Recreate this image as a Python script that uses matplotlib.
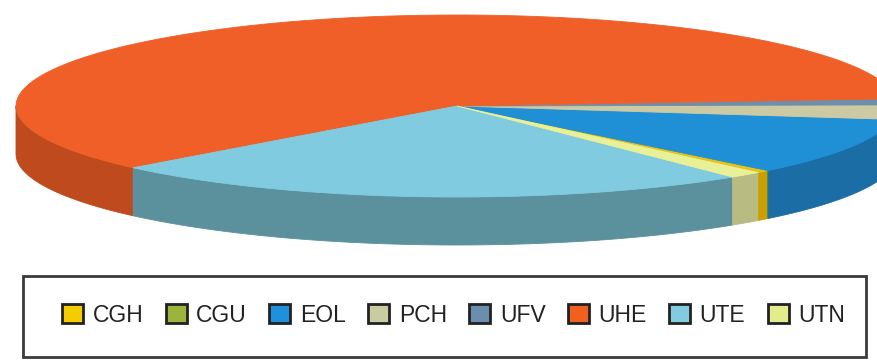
import numpy as np
import matplotlib
matplotlib.use('Agg')
import matplotlib.pyplot as plt
from matplotlib.patches import Polygon, Patch, Rectangle

# ---- data (share of installed capacity, %) ----
categories = ['CGH', 'CGU', 'EOL', 'PCH', 'UFV', 'UHE', 'UTE', 'UTN']
shares = [0.50, 0.02, 10.18, 2.55, 1.08, 60.60, 23.87, 1.20]

top_colors = ['#e8c21a', '#96b43c', '#1f8fd6', '#cdcaa3', '#6d8fab', '#f05f28', '#80cbe0', '#e8f098']
side_colors = ['#c9a000', '#7a9030', '#1a6da5', '#a8a882', '#50708a', '#bf4a1e', '#5b909d', '#b9bc82']
legend_colors = ['#f5cc00', '#9cb43c', '#1e90dc', '#c8cca0', '#6a8fae', '#f0601e', '#82cce2', '#e2ec8c']

W, H = 878, 361
fig = plt.figure(figsize=(W / 100, H / 100), dpi=100)
ax = fig.add_axes([0, 0, 1, 1])
ax.set_xlim(0, W)
ax.set_ylim(H, 0)
ax.axis('off')

# pie geometry (pixels)
cx, cy, rx, ry, depth = 457, 106, 441, 91, 48
start = -47.0

vals = np.array(shares, dtype=float)
frac = vals / vals.sum()
edges = start + 360.0 * np.concatenate([[0.0], np.cumsum(frac)])


def arc(t0, t1, dy=0.0, n=120):
    t = np.radians(np.linspace(t0, t1, n))
    return np.column_stack([cx + rx * np.cos(t), cy - ry * np.sin(t) + dy])


# side faces (front half: 180..360 deg)
for i in range(len(categories)):
    t0, t1 = edges[i], edges[i + 1]
    for k in (-1, 0, 1):
        lo = max(t0 + 360 * k, 180.0)
        hi = min(t1 + 360 * k, 360.0)
        if hi > lo:
            top = arc(lo, hi)
            bot = arc(hi, lo, dy=depth)
            ax.add_patch(Polygon(np.vstack([top, bot]), closed=True,
                                 facecolor=side_colors[i], edgecolor=side_colors[i],
                                 linewidth=0.6, zorder=1))

# top faces
for i in range(len(categories)):
    t0, t1 = edges[i], edges[i + 1]
    pts = np.vstack([[cx, cy], arc(t0, t1)])
    ax.add_patch(Polygon(pts, closed=True, facecolor=top_colors[i],
                         edgecolor=top_colors[i], linewidth=0.6, zorder=2))

# legend box
ax.add_patch(Rectangle((23, 276), 843, 81, fill=False, edgecolor='#3a3a3a',
                       linewidth=2, zorder=3))

handles = [Patch(facecolor=c, edgecolor='#222222', linewidth=2.0) for c in legend_colors]
leg = ax.legend(handles, categories, loc='center',
                bbox_to_anchor=(453.5 / W, 1 - 315 / H), bbox_transform=fig.transFigure,
                ncol=8, frameon=False, prop={'family': 'Liberation Sans', 'size': 16.5},
                handlelength=0.92, handleheight=0.92, handletextpad=0.42,
                columnspacing=0.97, borderpad=0, labelcolor='#222222')

fig.savefig('out.png', dpi=100)
